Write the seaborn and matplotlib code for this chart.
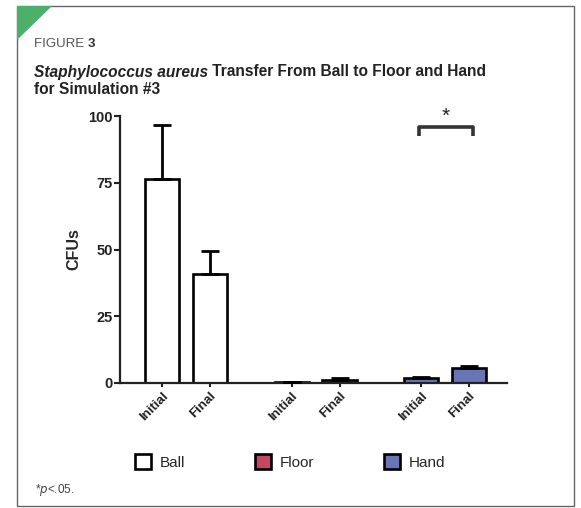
import numpy as np
import pandas as pd
import matplotlib
matplotlib.use("Agg")
import matplotlib.pyplot as plt
from matplotlib.patches import Rectangle, Polygon
import seaborn as sns

# Mean CFUs recovered per surface and sampling time (upper SD error bars)
surfaces = ["Ball", "Ball", "Floor", "Floor", "Hand", "Hand"]
times = ["Initial", "Final", "Initial", "Final", "Initial", "Final"]
cfu_mean = [76.5, 40.8, 0.4, 1.3, 2.0, 5.8]
cfu_sd = [20.0, 8.5, 0.1, 0.5, 0.3, 0.7]
y_ticks = [0, 25, 50, 75, 100]
palette = {"Ball": "#ffffff", "Floor": "#d93550", "Hand": "#5b6cc4"}

# one unit between Initial and Final, a wider step between surfaces
group_step = 2.7
pos = [(i // 2) * group_step + (i % 2) for i in range(len(times))]

df = pd.DataFrame({"surface": surfaces, "time": times, "cfu": cfu_mean, "pos": pos})

sns.set_style("white")
plt.rcParams["font.family"] = ["Liberation Sans", "DejaVu Sans"]

W, H = 581, 508
fig = plt.figure(figsize=(W / 100, H / 100), dpi=100)
ax = fig.add_axes([120 / W, 1 - 383 / H, 387 / W, 267 / H])

sns.barplot(data=df, x="pos", y="cfu", hue="surface", palette=palette,
            native_scale=True, dodge=False, width=0.71, errorbar=None,
            edgecolor="black", linewidth=1.9, ax=ax)

ax.errorbar(pos, cfu_mean, yerr=[np.zeros(len(cfu_sd)), cfu_sd], fmt="none",
            ecolor="black", elinewidth=2.0, capsize=6.5, capthick=2.0, zorder=3)

ax.set_xlim(pos[0] - 0.875, pos[-1] + 0.79)
ax.set_ylim(0, 100)
ax.set_yticks(y_ticks)
ax.set_yticklabels([str(t) for t in y_ticks], fontweight="bold", fontsize=10.5)
ax.set_xticks(pos)
ax.set_xticklabels(times, rotation=45, ha="right", rotation_mode="anchor",
                   fontweight="bold", fontsize=9.5)
ax.set_xlabel("")
ax.set_ylabel("CFUs", fontweight="bold", fontsize=11.5, labelpad=5)

for side in ("top", "right"):
    ax.spines[side].set_visible(False)
for side in ("left", "bottom"):
    ax.spines[side].set_linewidth(1.6)
    ax.spines[side].set_color("#222222")
ax.tick_params(axis="y", length=4, width=1.5, pad=1, colors="#222222", left=True)
ax.tick_params(axis="x", length=3, width=1.5, pad=2, colors="#222222", bottom=True)

# significance bracket between Hand Initial and Hand Final
bx0, bx1 = pos[4] - 0.05, pos[5] + 0.08
ax.plot([bx0, bx0, bx1, bx1], [92.5, 96, 96, 92.5], color="#333333", lw=2.6,
        clip_on=False, solid_capstyle="butt")
ax.text((bx0 + bx1) / 2, 100, "*", ha="center", va="center", fontsize=15,
        color="#222222", clip_on=False)

sns.move_legend(ax, "center", bbox_to_anchor=(290 / W, 1 - 462 / H),
                bbox_transform=fig.transFigure, ncol=3, frameon=False, title=None,
                columnspacing=4.6, handlelength=1.05, handleheight=1.05,
                handletextpad=0.55, fontsize=11)

# page frame and corner marker
fig.patches.append(Rectangle((17 / W, 1 - 506 / H), (574 - 17) / W, (506 - 6) / H,
                             transform=fig.transFigure, fill=False,
                             edgecolor="#666666", lw=1.0))
fig.patches.append(Polygon([(17 / W, 1 - 6 / H), (52 / W, 1 - 6 / H), (17 / W, 1 - 40 / H)],
                           closed=True, transform=fig.transFigure,
                           facecolor="#4caf6a", edgecolor="none"))

renderer = fig.canvas.get_renderer()
f1 = fig.text(34 / W, 1 - 44 / H, "FIGURE ", fontsize=9.5, color="#555555", va="center")
fb = f1.get_window_extent(renderer)
fig.text(fb.x1 / W, 1 - 44 / H, "3", fontsize=9.5, color="#333333",
         fontweight="bold", va="center")

t1 = fig.text(34 / W, 1 - 72 / H, "Staphylococcus aureus", fontsize=11.2,
              fontweight="bold", fontstyle="italic", color="#222222", va="center")
bb = t1.get_window_extent(renderer)
fig.text(bb.x1 / W, 1 - 72 / H, " Transfer From Ball to Floor and Hand", fontsize=11.2,
         fontweight="bold", color="#222222", va="center")
fig.text(34 / W, 1 - 90 / H, "for Simulation #3", fontsize=11.2,
         fontweight="bold", color="#222222", va="center")

fig.text(35 / W, 1 - 490 / H, "*$p$<.05.", fontsize=8.5, color="#444444", va="center")

fig.savefig("out.png", dpi=100, facecolor="white")
